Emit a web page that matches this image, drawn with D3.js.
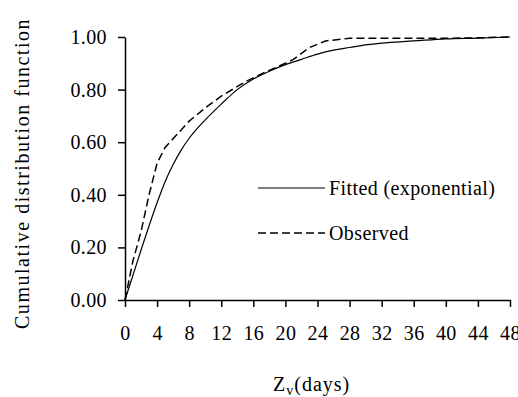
<!doctype html>
<html>
<head>
<style>
  body { margin: 0; background: #fff; }
  svg text { font-family: "Liberation Serif", "DejaVu Serif", serif; fill: #000; letter-spacing: 0.4px; }
  .axis path, .axis line { stroke: #000; stroke-width: 1.5; }
</style>
<script src="https://d3js.org/d3.v7.min.js"></script>
</head>
<body>
<svg width="518" height="397"></svg>
<script>
// data
var fittedX = [0, 2, 4, 5, 6, 7, 8, 10, 12, 14, 16, 18, 20, 22, 24, 26, 28, 30, 32, 36, 40, 44, 48];
var fittedY = [0, 0.19, 0.37, 0.45, 0.515, 0.57, 0.615, 0.685, 0.745, 0.80, 0.84, 0.87, 0.895, 0.915, 0.935, 0.95, 0.96, 0.97, 0.977, 0.985, 0.993, 0.996, 1.0];
var observedX = [0, 1, 2, 3, 4, 5, 8, 10, 12, 15, 17, 20, 21, 23, 25, 28, 32, 36, 40, 44, 48];
var observedY = [0, 0.15, 0.26, 0.40, 0.52, 0.58, 0.68, 0.73, 0.775, 0.83, 0.86, 0.90, 0.915, 0.96, 0.985, 0.995, 0.995, 0.995, 0.995, 0.997, 1.0];
var xTicks = [0, 4, 8, 12, 16, 20, 24, 28, 32, 36, 40, 44, 48];
var yTicks = [0, 0.2, 0.4, 0.6, 0.8, 1.0];

var svg = d3.select("svg");

var x = d3.scaleLinear().domain([0, 48]).range([125, 510]),
    y = d3.scaleLinear().domain([0, 1]).range([300, 37]);

// axes
svg.append("g")
   .attr("class", "axis")
   .attr("transform", "translate(0,300)")
   .call(d3.axisBottom(x).tickValues(xTicks).tickSize(7).tickSizeOuter(0).tickPadding(19).tickFormat(d3.format("d")))
   .attr("font-family", null).attr("font-size", 20);

svg.append("g")
   .attr("class", "axis")
   .attr("transform", "translate(125,0)")
   .call(d3.axisLeft(y).tickValues(yTicks).tickSize(7).tickSizeOuter(0).tickPadding(11).tickFormat(d3.format(".2f")))
   .attr("font-family", null).attr("font-size", 20);

// lines
var line = d3.line()
    .curve(d3.curveMonotoneX)
    .x(function(d) { return x(d[0]); })
    .y(function(d) { return y(d[1]); });

svg.append("path")
   .datum(d3.zip(fittedX, fittedY))
   .attr("fill", "none")
   .attr("stroke", "#000")
   .attr("stroke-width", 1.2)
   .attr("d", line);

svg.append("path")
   .datum(d3.zip(observedX, observedY))
   .attr("fill", "none")
   .attr("stroke", "#000")
   .attr("stroke-width", 1.5)
   .attr("stroke-dasharray", "8,4")
   .attr("d", line.curve(d3.curveLinear));

// legend
svg.append("line").attr("x1", 258).attr("x2", 325).attr("y1", 188).attr("y2", 188)
   .attr("stroke", "#000").attr("stroke-width", 1.2);
svg.append("text").attr("x", 329).attr("y", 195).attr("font-size", 20).text("Fitted (exponential)");

svg.append("line").attr("x1", 258).attr("x2", 325).attr("y1", 233).attr("y2", 233)
   .attr("stroke", "#000").attr("stroke-width", 1.5).attr("stroke-dasharray", "8,4");
svg.append("text").attr("x", 329).attr("y", 240).attr("font-size", 20).text("Observed");

// axis titles
svg.append("text")
   .attr("transform", "translate(29,174) rotate(-90)")
   .attr("text-anchor", "middle")
   .attr("font-size", 20)
   .attr("textLength", 310)
   .attr("lengthAdjust", "spacing")
   .text("Cumulative distribution function");

var xt = svg.append("text")
   .attr("x", 273).attr("y", 391)
   .attr("font-size", 20)
   .style("letter-spacing", "1px");
xt.append("tspan").text("Z");
xt.append("tspan").attr("font-size", 14).attr("dy", 4).text("v");
xt.append("tspan").attr("dy", -4).text("(days)");
</script>
</body>
</html>
